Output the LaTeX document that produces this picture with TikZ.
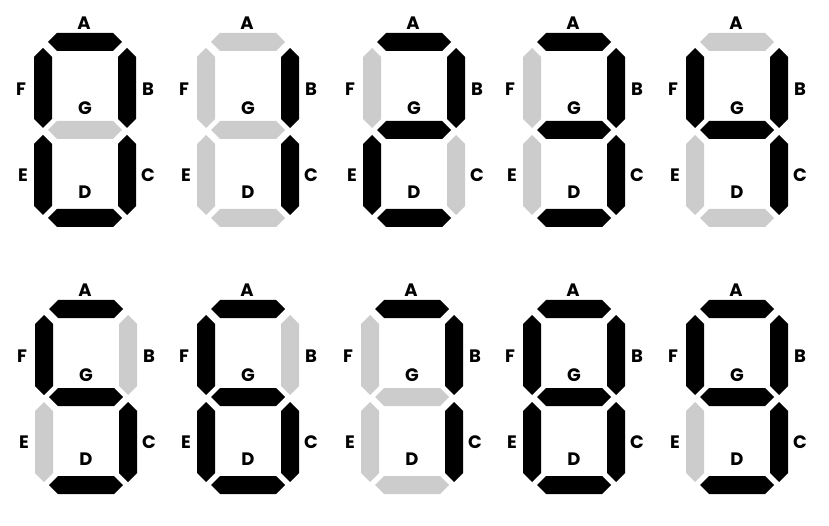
\documentclass[tikz,border=0pt]{standalone}
\usepackage{fontspec}
\setmainfont{Poppins}
\usepackage{tikz}

\definecolor{segon}{gray}{0}
\definecolor{segoff}{gray}{0.8}

\begin{document}
\begin{tikzpicture}[x=1pt,y=-1pt,lbl/.style={font={\fontsize{18pt}{18pt}\selectfont\bfseries},inner sep=0pt}]
      \useasboundingbox (0,0) rectangle (829,526);
      \foreach \cx/\cy/\sa/\sb/\sc/\sd/\se/\sf/\sg/\n in {
          85/130/segon/segon/segon/segon/segon/segon/segoff/0,
          248/130/segoff/segon/segon/segoff/segoff/segoff/segoff/1,
          414/130/segon/segon/segoff/segon/segon/segoff/segon/2,
          574/130/segon/segon/segon/segon/segoff/segoff/segon/3,
          737/130/segoff/segon/segon/segoff/segoff/segon/segon/4,
          86/397/segon/segoff/segon/segon/segoff/segon/segon/5,
          248/397/segon/segoff/segon/segon/segon/segon/segon/6,
          412/397/segon/segon/segon/segoff/segoff/segoff/segoff/7,
          574/397/segon/segon/segon/segon/segon/segon/segon/8,
          737/397/segon/segon/segon/segon/segoff/segon/segon/9} {
        \begin{scope}[shift={(\cx,\cy)}]
          % horizontal segments A, G, D
          \foreach \y/\s in {-88/\sa, 0/\sg, 88/\sd}
            \fill[fill=\s] (-37,\y) -- ++(9,-9) -- ++(56,0) -- ++(9,9) -- ++(-9,9) -- ++(-56,0) -- cycle;
          % vertical segments F, B, E, C
          \foreach \x/\y/\s in {-42/-82/\sf, 42/-82/\sb, -42/5/\se, 42/5/\sc}
            \fill[fill=\s] (\x,\y) -- ++(9,9) -- ++(0,62) -- ++(-9,9) -- ++(-9,-9) -- ++(0,-62) -- cycle;
          \node[lbl] (A\n) at (-1,-107) {A};
          \node[lbl] (F\n) at (-64,-41) {F};
          \node[lbl] (B\n) at (63,-41) {B};
          \node[lbl] (G\n) at (0,-22) {G};
          \node[lbl] (E\n) at (-62,45) {E};
          \node[lbl] (C\n) at (63,45) {C};
          \node[lbl] (D\n) at (0,62) {D};
        \end{scope}
      }
    \end{tikzpicture}
\end{document}
